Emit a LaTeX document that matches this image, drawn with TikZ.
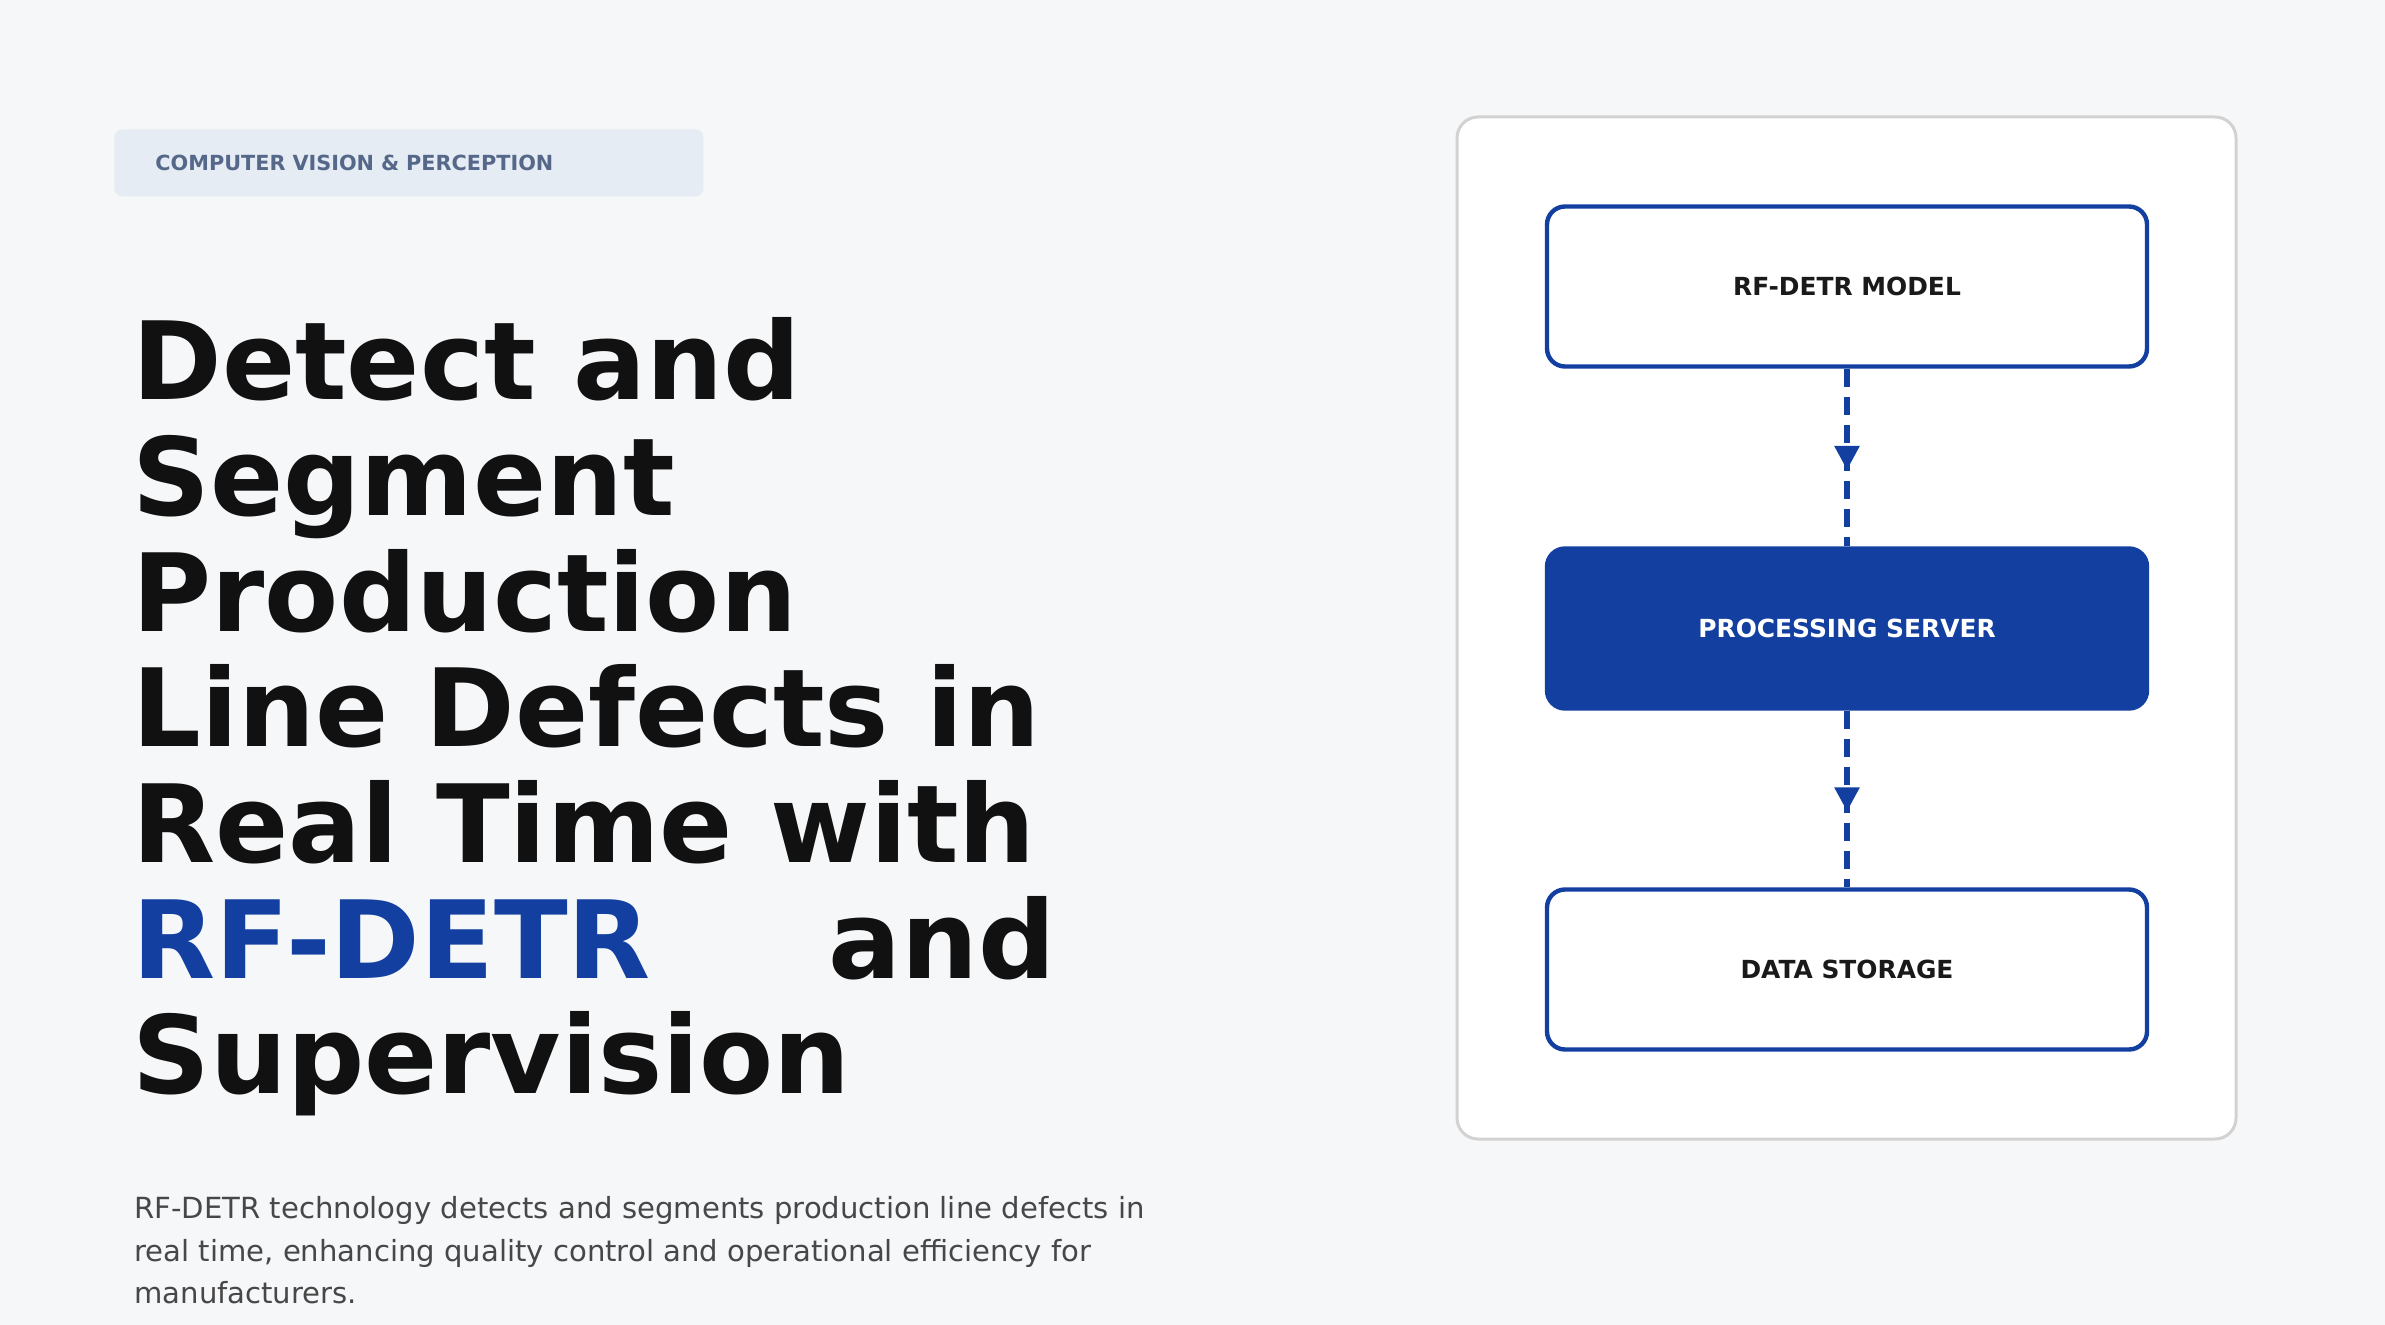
\documentclass[tikz,border=0pt]{standalone}
\usepackage{fontspec}
\setmainfont{DejaVu Sans}
\usetikzlibrary{arrows.meta,decorations.markings}

\definecolor{pagebg}{HTML}{F6F7F9}
\definecolor{tagfill}{HTML}{E6ECF3}
\definecolor{tagtext}{HTML}{56688A}
\definecolor{ink}{HTML}{111111}
\definecolor{accent}{HTML}{1340A0}
\definecolor{bodytext}{HTML}{474747}
\definecolor{cardline}{HTML}{D2D2D2}
\definecolor{labeltext}{HTML}{1A1A1A}

\begin{document}
\begin{tikzpicture}[x=0.5pt, y=-0.5pt,
    titleline/.style={anchor=base west, inner sep=0pt, text=ink,
        font=\bfseries\fontsize{54}{58}\selectfont},
    bodyline/.style={anchor=base west, inner sep=0pt, text=bodytext,
        font=\fontsize{14.55}{18}\selectfont},
    box/.style={draw=accent, line width=2.2pt, fill=white, rounded corners=9pt,
        minimum width=300pt, minimum height=80pt, text=labeltext,
        font=\bfseries\fontsize{12.45}{15}\selectfont},
    flow/.style={draw=accent, line width=2.8pt, dash pattern=on 9pt off 5pt,
        postaction={decorate}, decoration={markings,
        mark=at position 0.57 with {\arrow{Triangle[length=12pt,width=12pt]}}}}]

    \fill[pagebg] (0,0) rectangle (2385,1325);
    \useasboundingbox (0,0) rectangle (2385,1325);

    % tag
    \node[anchor=north west, fill=tagfill, rounded corners=4pt, inner xsep=20.5pt,
        text width=253.5pt, minimum height=33.5pt, align=left, text=tagtext,
        font=\bfseries\fontsize{10.4}{12}\selectfont] (tag) at (114,129)
        {COMPUTER VISION \& PERCEPTION};

    % title
    \foreach \txt [count=\i] in {Detect and, Segment, Production, Line Defects in,
        Real Time with, {\makebox[348pt][l]{\color{accent}RF-DETR}and}, Supervision}
        \node[titleline] (title-\i) at (132,{400+115.6*(\i-1)}) {\txt};

    % text
    \node[bodyline] (body-1) at (134,1218) {RF-DETR technology detects and segments production line defects in};
    \node[bodyline] (body-2) at (134,1261) {real time, enhancing quality control and operational efficiency for};
    \node[bodyline] (body-3) at (134,1303) {manufacturers.};

    % diagram
    \node[draw=cardline, line width=1.5pt, fill=white, rounded corners=10.5pt,
        minimum width=389.5pt, minimum height=511pt] (card) at (1846.5,628) {};

    \node[box] (model) at (1847,286.5) {RF-DETR MODEL};
    \node[box, fill=accent, text=white] (server) at (1847,628.5) {PROCESSING SERVER};
    \node[box] (storage) at (1847,969.5) {DATA STORAGE};

    \draw[flow] (model.south) -- (server.north);
    \draw[flow] (server.south) -- (storage.north);

\end{tikzpicture}
\end{document}
